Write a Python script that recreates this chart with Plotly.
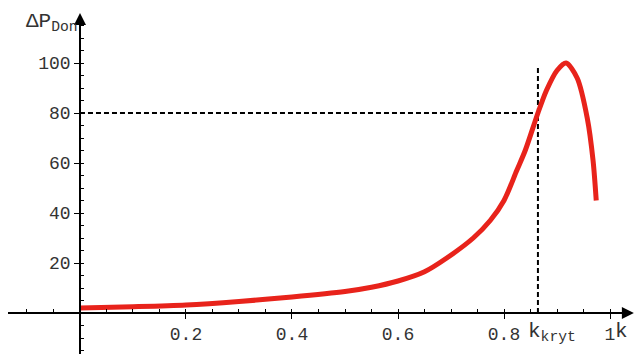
import plotly.graph_objects as go

# data
k_vals = [0.0, 0.1, 0.2, 0.3, 0.4, 0.5, 0.55, 0.6, 0.65, 0.692, 0.742, 0.774, 0.8, 0.824, 0.84,
          0.864, 0.88, 0.9, 0.917, 0.938, 0.957, 0.968, 0.974]
p_vals = [2.0, 2.5, 3.2, 4.6, 6.4, 8.6, 10.3, 12.8, 16.5, 22.0, 30.0, 37.0, 45.0, 57.0, 65.0,
          80.0, 89.0, 97.0, 100.0, 94.0, 78.0, 61.0, 45.0]
k_kryt = 0.864
p_kryt = 80
v_top = 98
y_ticks = [20, 40, 60, 80, 100]
x_ticks = [0.2, 0.4, 0.6, 0.8, 1]
x_ticktext = ["0.2", "0.4", "0.6", "0.8", "1"]

W, H = 635, 354
font = dict(family="Liberation Mono", size=18, color="#333333")
big = dict(family="Liberation Mono", size=21, color="#333333")

fig = go.Figure()
fig.add_trace(go.Scatter(x=[0, k_kryt], y=[p_kryt, p_kryt], mode="lines",
                         line=dict(color="black", width=2, dash="5px,3px")))
fig.add_trace(go.Scatter(x=[k_kryt, k_kryt], y=[0, v_top], mode="lines",
                         line=dict(color="black", width=2, dash="5px,3px")))
fig.add_trace(go.Scatter(x=k_vals, y=p_vals, mode="lines",
                         line=dict(color="#e8231b", width=5, shape="spline", smoothing=0.8)))

x_range = [-0.1358, 1.0377]
y_range = [-16.4, 119.2]

fig.update_layout(
    width=W, height=H, margin=dict(l=0, r=0, t=0, b=0, autoexpand=False),
    paper_bgcolor="white", plot_bgcolor="white", showlegend=False,
    font=font,
    xaxis=dict(domain=[8 / W, 630 / W], range=x_range, anchor="free", position=(H - 313) / H,
               automargin=False,
               showgrid=False, zeroline=False, showline=True, linecolor="black", linewidth=1.5,
               tickmode="array", tickvals=x_ticks, ticktext=x_ticktext,
               ticks="outside", ticklen=5, tickcolor="black", tickwidth=1.2,
               minor=dict(dtick=0.05, tick0=0, ticks="inside", ticklen=3, tickcolor="black", tickwidth=1.2),
               tickfont=font),
    yaxis=dict(domain=[0, (H - 15) / H], range=y_range, anchor="free", position=80 / W,
               automargin=False,
               showgrid=False, zeroline=False, showline=True, linecolor="black", linewidth=1.5,
               tickmode="array", tickvals=y_ticks,
               ticks="outside", ticklen=5, tickcolor="black", tickwidth=1.2,
               minor=dict(dtick=5, tick0=0, ticks="inside", ticklen=3, tickcolor="black", tickwidth=1.2),
               tickfont=font),
)

# axis arrows
fig.add_annotation(x=1.045, y=0, ax=1.0, ay=0, xref="x", yref="y", axref="x", ayref="y",
                   showarrow=True, arrowhead=2, arrowsize=1.6, arrowwidth=1.5, arrowcolor="black",
                   text="", standoff=0)
fig.add_annotation(x=0, y=120, ax=0, ay=110, xref="x", yref="y", axref="x", ayref="y",
                   showarrow=True, arrowhead=2, arrowsize=1.6, arrowwidth=1.5, arrowcolor="black",
                   text="", standoff=0)

# labels
fig.add_annotation(x=80 / W, y=1 - 8 / H, xref="paper", yref="paper", xanchor="right", yanchor="top",
                   showarrow=False, text="ΔP<sub>Don</sub>", font=big)
fig.add_annotation(x=526 / W, y=(H - 318) / H, xref="paper", yref="paper", xanchor="left", yanchor="top",
                   showarrow=False, text="k<sub>kryt</sub>", font=big)
fig.add_annotation(x=613 / W, y=(H - 318) / H, xref="paper", yref="paper", xanchor="left", yanchor="top",
                   showarrow=False, text="k", font=big)

fig.write_html("out.html", config={"displayModeBar": False},
               post_script="document.body.style.margin='0';document.body.style.overflow='hidden';")
